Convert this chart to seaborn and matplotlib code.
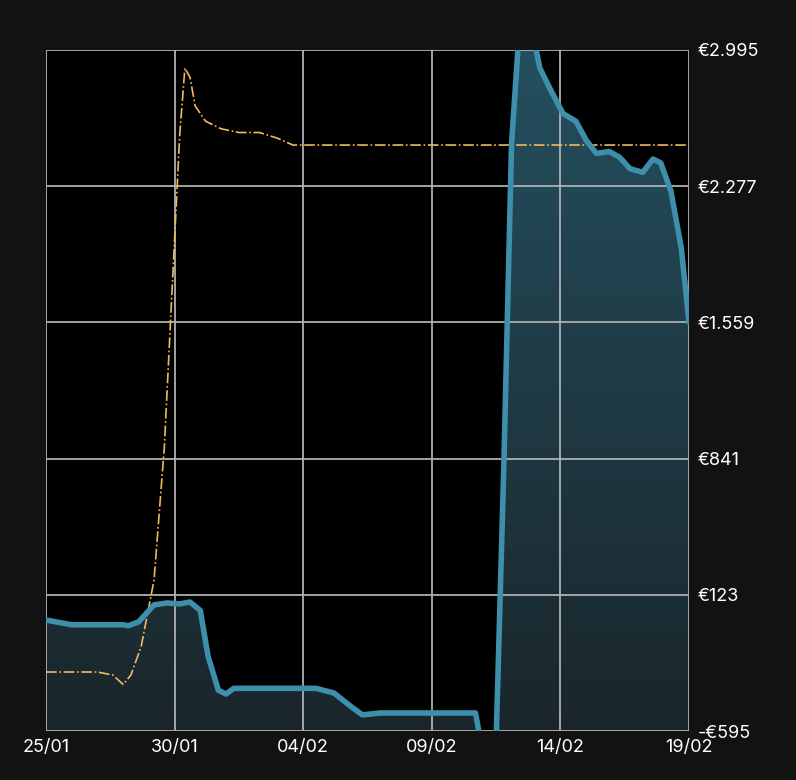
import numpy as np
import matplotlib
matplotlib.use("Agg")
import matplotlib.pyplot as plt
import seaborn as sns
from matplotlib.path import Path
from matplotlib.patches import PathPatch
from matplotlib.colors import LinearSegmentedColormap

blue_days = [0,1,2,3,3.2,3.6,4.2,4.7,5.2,5.6,6.0,6.3,6.7,7.0,7.3,8,9,10,10.5,11.2,11.8,12.3,13,14,15,16,16.7,16.9,17.5,17.8,18.1,18.4,18.9,19.2,19.6,20.1,20.6,21.0,21.4,21.9,22.3,22.7,23.2,23.6,23.9,24.3,24.7,25]
blue_vals = [-10,-35,-35,-35,-40,-20,70,80,75,85,40,-200,-380,-400,-370,-370,-370,-370,-370,-395,-460,-510,-500,-500,-500,-500,-500,-650,-650,800,2500,3100,3100,2900,2790,2660,2620,2520,2450,2460,2430,2370,2350,2420,2400,2250,1950,1559]
orange_days = [0,2,2.6,3.0,3.3,3.7,4.2,4.6,5.0,5.2,5.4,5.6,5.8,6.2,6.8,7.5,8.3,9.0,9.6,25]
orange_vals = [-284,-284,-300,-350,-300,-150,200,900,2000,2550,2900,2850,2700,2620,2580,2560,2560,2530,2494,2494]
xtick_pos = [0,5,10,15,20,25]
xtick_labels = ["25/01","30/01","04/02","09/02","14/02","19/02"]
ytick_vals = [-595,123,841,1559,2277,2995]
ytick_labels = ["-€595","€123","€841","€1.559","€2.277","€2.995"]

sns.set_style("dark")
plt.rcParams['font.family'] = ['Inter', 'DejaVu Sans']
bg = "#121212"
fig = plt.figure(figsize=(7.96,7.8), dpi=100, facecolor=bg)
ax = fig.add_axes([46/796, 1-731/780, 643/796, 681/780])
ax.set_facecolor("#000000")
ymin, ymax = -595, 2995

bd = np.array(blue_days); bv = np.clip(np.array(blue_vals), ymin-50, ymax+300)
verts = [(bd[0], ymin)] + list(zip(bd, bv)) + [(bd[-1], ymin), (bd[0], ymin)]
patch = PathPatch(Path(verts), facecolor="none", edgecolor="none")
ax.add_patch(patch)
grad = np.linspace(1, 0, 256).reshape(-1, 1)
cmap = LinearSegmentedColormap.from_list("g", ["#1a262b", "#244f5f"])
im = ax.imshow(grad, extent=[0, 25, ymin, ymax], aspect="auto", cmap=cmap, origin="upper", zorder=1)
im.set_clip_path(patch)

for v in ytick_vals:
    ax.axhline(v, color="#b0b0b0", lw=1.3, zorder=2)
for p in xtick_pos:
    ax.axvline(p, color="#b0b0b0", lw=1.3, zorder=2)

sns.lineplot(x=orange_days, y=orange_vals, ax=ax, color="#f2b85e", lw=1.2, linestyle="-.", zorder=3)
sns.lineplot(x=blue_days, y=blue_vals, ax=ax, color="#3d8fab", lw=4, zorder=4,
             solid_joinstyle="round", solid_capstyle="round")

ax.set_xlim(0, 25); ax.set_ylim(ymin, ymax)
ax.set_xticks(xtick_pos); ax.set_xticklabels(xtick_labels)
ax.set_yticks(ytick_vals); ax.set_yticklabels(ytick_labels)
ax.yaxis.tick_right()
ax.tick_params(colors="white", labelsize=13, length=0, pad=6)
ax.grid(False)
for s in ax.spines.values():
    s.set_visible(False)
fig.savefig("out.png", dpi=100, facecolor=bg)
